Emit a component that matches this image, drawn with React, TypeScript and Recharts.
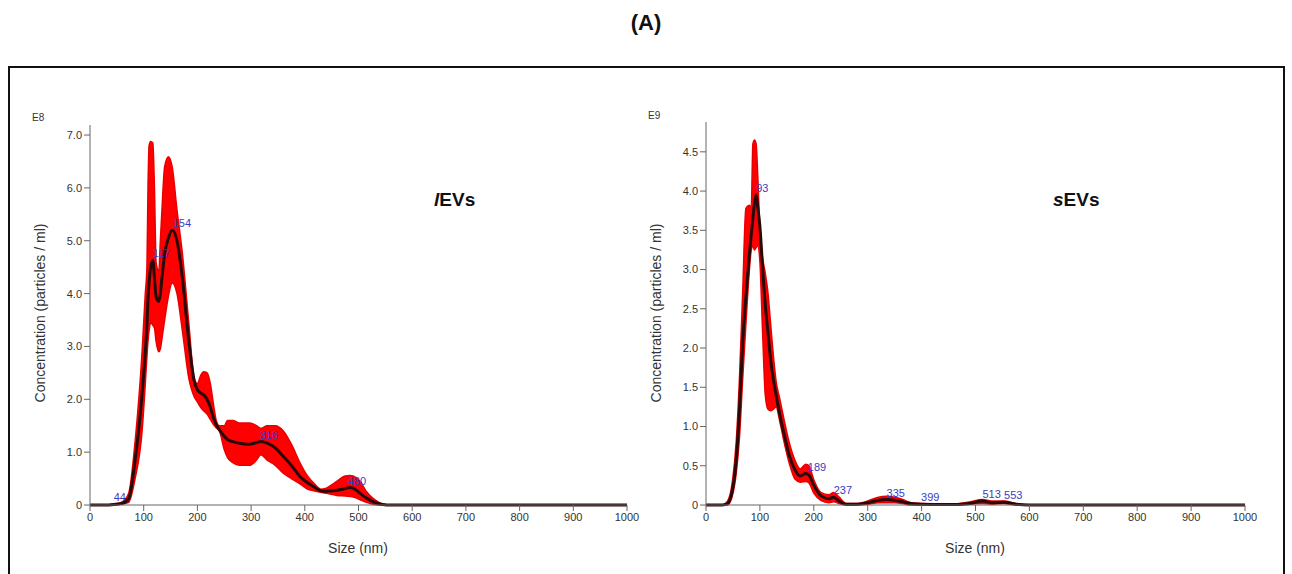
import React from "react";
import { Area, ComposedChart, Line, Scatter, XAxis, YAxis } from "recharts";

// lEVs (E8 particles / ml)
const leftSize = [0, 25, 45, 60, 72, 84, 97, 103, 106, 108, 110, 113, 117, 120, 123, 126, 128, 131, 134, 139, 146, 153, 162, 172, 184, 194, 200, 206, 212, 218, 224, 230, 235, 241, 250, 256, 266, 278, 297, 310, 318, 330, 345, 360, 375, 391, 405, 416, 430, 440, 460, 475, 484, 490, 503, 515, 530, 545, 560, 600, 1000];
const leftMean = [0, 0, 0.01, 0.03, 0.12, 0.85, 2.1, 2.9, 3.4, 3.9, 4.2, 4.5, 4.63, 4.3, 3.95, 3.87, 3.85, 4.0, 4.3, 4.75, 5.05, 5.2, 5.0, 4.3, 3.1, 2.35, 2.18, 2.12, 2.08, 2.0, 1.85, 1.65, 1.52, 1.42, 1.3, 1.24, 1.2, 1.17, 1.15, 1.18, 1.2, 1.17, 1.08, 0.92, 0.75, 0.54, 0.42, 0.35, 0.27, 0.26, 0.28, 0.31, 0.33, 0.32, 0.22, 0.13, 0.05, 0.01, 0, 0, 0];
const leftLow = [0, 0, 0, 0.02, 0.05, 0.5, 1.4, 2.3, 2.8, 3.1, 3.3, 3.45, 3.4, 3.35, 3.1, 2.95, 2.9, 2.95, 3.15, 3.5, 3.95, 4.2, 4.0, 3.3, 2.4, 2.05, 1.95, 1.85, 1.78, 1.72, 1.62, 1.52, 1.46, 1.4, 1.05, 0.9, 0.8, 0.75, 0.75, 0.85, 0.95, 0.85, 0.75, 0.6, 0.5, 0.4, 0.3, 0.27, 0.24, 0.22, 0.18, 0.17, 0.16, 0.15, 0.1, 0.05, 0.01, 0, 0, 0, 0];
const leftHigh = [0, 0, 0.02, 0.06, 0.22, 1.2, 2.9, 4.0, 4.5, 6.0, 6.8, 6.88, 6.85, 6.0, 4.6, 4.45, 4.4, 5.0, 5.58, 6.4, 6.59, 6.4, 5.58, 4.76, 3.44, 2.4, 2.3, 2.45, 2.52, 2.5, 2.3, 1.9, 1.6, 1.5, 1.5, 1.6, 1.6, 1.55, 1.55, 1.5, 1.45, 1.5, 1.5, 1.4, 1.15, 0.8, 0.55, 0.42, 0.3, 0.32, 0.45, 0.55, 0.56, 0.55, 0.45, 0.25, 0.1, 0.02, 0, 0, 0];
const leftPeakSize = [44, 117, 154, 316, 480];
const leftPeakConc = [0.02, 4.63, 5.2, 1.2, 0.33];

// sEVs (E9 particles / ml)
const rightSize = [0, 30, 40, 49, 56, 62, 68, 74, 80, 84, 87, 90, 93, 96, 100, 105, 110, 115, 120, 125, 130, 137, 145, 155, 165, 175, 185, 191, 200, 213, 228, 237, 247, 260, 280, 300, 320, 335, 350, 365, 380, 399, 450, 490, 513, 530, 553, 575, 600, 1000];
const rightMean = [0, 0, 0.02, 0.19, 0.57, 1.2, 2.06, 2.65, 3.16, 3.45, 3.65, 3.85, 3.95, 3.8, 3.55, 3.03, 2.55, 2.2, 1.85, 1.6, 1.4, 1.15, 0.9, 0.62, 0.45, 0.37, 0.4, 0.38, 0.25, 0.12, 0.08, 0.1, 0.05, 0.01, 0.01, 0.03, 0.06, 0.07, 0.06, 0.04, 0.02, 0.01, 0.005, 0.02, 0.05, 0.03, 0.035, 0.01, 0, 0];
const rightLow = [0, 0, 0, 0.12, 0.4, 0.85, 1.6, 2.3, 2.95, 3.25, 3.3, 3.25, 3.28, 3.3, 3.1, 2.2, 1.4, 1.22, 1.2, 1.22, 1.25, 1.06, 0.8, 0.52, 0.33, 0.29, 0.3, 0.28, 0.15, 0.06, 0.03, 0.04, 0.02, 0, 0, 0.01, 0.03, 0.03, 0.03, 0.02, 0, 0, 0, 0.01, 0.02, 0.01, 0.02, 0, 0, 0];
const rightHigh = [0, 0, 0.05, 0.3, 0.8, 1.6, 2.7, 3.78, 3.82, 3.8, 4.6, 4.65, 4.6, 4.2, 3.5, 3.15, 2.95, 2.7, 2.3, 1.9, 1.58, 1.35, 1.08, 0.78, 0.57, 0.46, 0.52, 0.5, 0.32, 0.16, 0.13, 0.16, 0.1, 0.02, 0.02, 0.05, 0.1, 0.11, 0.1, 0.07, 0.03, 0.02, 0.01, 0.04, 0.07, 0.05, 0.05, 0.02, 0, 0];
const rightPeakSize = [93, 189, 237, 335, 399, 513, 553];
const rightPeakConc = [3.95, 0.4, 0.1, 0.07, 0.01, 0.05, 0.035];

const xTicks = [0, 100, 200, 300, 400, 500, 600, 700, 800, 900, 1000];
const leftTicks = [0, 1, 2, 3, 4, 5, 6, 7];
const rightTicks = [0, 0.5, 1, 1.5, 2, 2.5, 3, 3.5, 4, 4.5];

const FONT = "Arial, 'Liberation Sans', sans-serif";

const build = (size: number[], mean: number[], low: number[], high: number[]) =>
  size.map((s, i) => ({ size: s, mean: mean[i], band: [low[i], high[i]] }));

const peaks = (size: number[], conc: number[]) =>
  size.map((s, i) => ({ size: s, conc: conc[i], label: String(s) }));

const renderPeak = (props: any) => (
  <text x={props.cx} y={props.cy - 3} fill="#3b3bc4" fontSize={11} fontFamily={FONT}>
    {props.payload.label}
  </text>
);

const fmt = (v: number) => (v === 0 ? "0" : v.toFixed(1));

function Nta({
  data,
  peakData,
  yMax,
  yTicks,
  width,
  margin,
}: {
  data: any[];
  peakData: any[];
  yMax: number;
  yTicks: number[];
  width: number;
  margin: { top: number; right: number; left: number; bottom: number };
}) {
  const tick = { fontSize: 11, fill: "#333", fontFamily: FONT };
  return (
    <ComposedChart width={width} height={574} data={data} margin={margin}>
      <XAxis
        type="number"
        dataKey="size"
        domain={[0, 1000]}
        ticks={xTicks}
        interval={0}
        tick={tick}
        tickSize={6}
        stroke="#666"
        height={40}
      />
      <YAxis
        type="number"
        domain={[0, yMax]}
        ticks={yTicks}
        interval={0}
        tickFormatter={fmt}
        tick={tick}
        tickSize={6}
        stroke="#666"
        width={60}
      />
      <Area
        dataKey="band"
        type="monotone"
        fill="#ff0000"
        fillOpacity={1}
        stroke="#e80000"
        strokeWidth={1.5}
        isAnimationActive={false}
      />
      <Line
        dataKey="mean"
        type="monotone"
        stroke="#2a0808"
        strokeWidth={3}
        dot={false}
        isAnimationActive={false}
      />
      <Scatter data={peakData} dataKey="conc" shape={renderPeak} isAnimationActive={false} />
    </ComposedChart>
  );
}

const abs = (style: React.CSSProperties): React.CSSProperties => ({ position: "absolute", fontFamily: FONT, ...style });

export default function App() {
  const leftData = build(leftSize, leftMean, leftLow, leftHigh);
  const rightData = build(rightSize, rightMean, rightLow, rightHigh);
  return (
    <div style={{ position: "absolute", left: 0, top: 0, width: 1292, height: 574, background: "#fff", overflow: "hidden" }}>
      <div style={abs({ left: 0, width: 1292, top: 10, textAlign: "center", fontSize: 22, fontWeight: "bold", color: "#111" })}>(A)</div>
      <div style={abs({ left: 8, top: 66, width: 1273, height: 560, border: "2px solid #111" })} />

      <div style={abs({ left: 0, top: 0 })}>
        <Nta
          data={leftData}
          peakData={peaks(leftPeakSize, leftPeakConc)}
          yMax={7.19}
          yTicks={leftTicks}
          width={650}
          margin={{ top: 125, right: 23, left: 30, bottom: 29 }}
        />
      </div>
      <div style={abs({ left: 620, top: 0 })}>
        <Nta
          data={rightData}
          peakData={peaks(rightPeakSize, rightPeakConc)}
          yMax={4.88}
          yTicks={rightTicks}
          width={660}
          margin={{ top: 122, right: 35, left: 26, bottom: 29 }}
        />
      </div>

      <div style={abs({ left: 32, top: 112, fontSize: 10, color: "#333" })}>E8</div>
      <div style={abs({ left: 648, top: 110, fontSize: 10, color: "#333" })}>E9</div>

      <div style={abs({ left: 434, top: 189, fontSize: 19, fontWeight: "bold", color: "#111" })}>
        <i>l</i>EVs
      </div>
      <div style={abs({ left: 1053, top: 189, fontSize: 19, fontWeight: "bold", color: "#111" })}>
        <i>s</i>EVs
      </div>

      <div style={abs({ left: 40, top: 313, fontSize: 14, color: "#333", whiteSpace: "nowrap", transform: "translate(-50%, -50%) rotate(-90deg)" })}>
        Concentration (particles / ml)
      </div>
      <div style={abs({ left: 656, top: 313, fontSize: 14, color: "#333", whiteSpace: "nowrap", transform: "translate(-50%, -50%) rotate(-90deg)" })}>
        Concentration (particles / ml)
      </div>
      <div style={abs({ left: 358, top: 548, fontSize: 14, color: "#333", whiteSpace: "nowrap", transform: "translate(-50%, -50%)" })}>
        Size (nm)
      </div>
      <div style={abs({ left: 975, top: 548, fontSize: 14, color: "#333", whiteSpace: "nowrap", transform: "translate(-50%, -50%)" })}>
        Size (nm)
      </div>
    </div>
  );
}
